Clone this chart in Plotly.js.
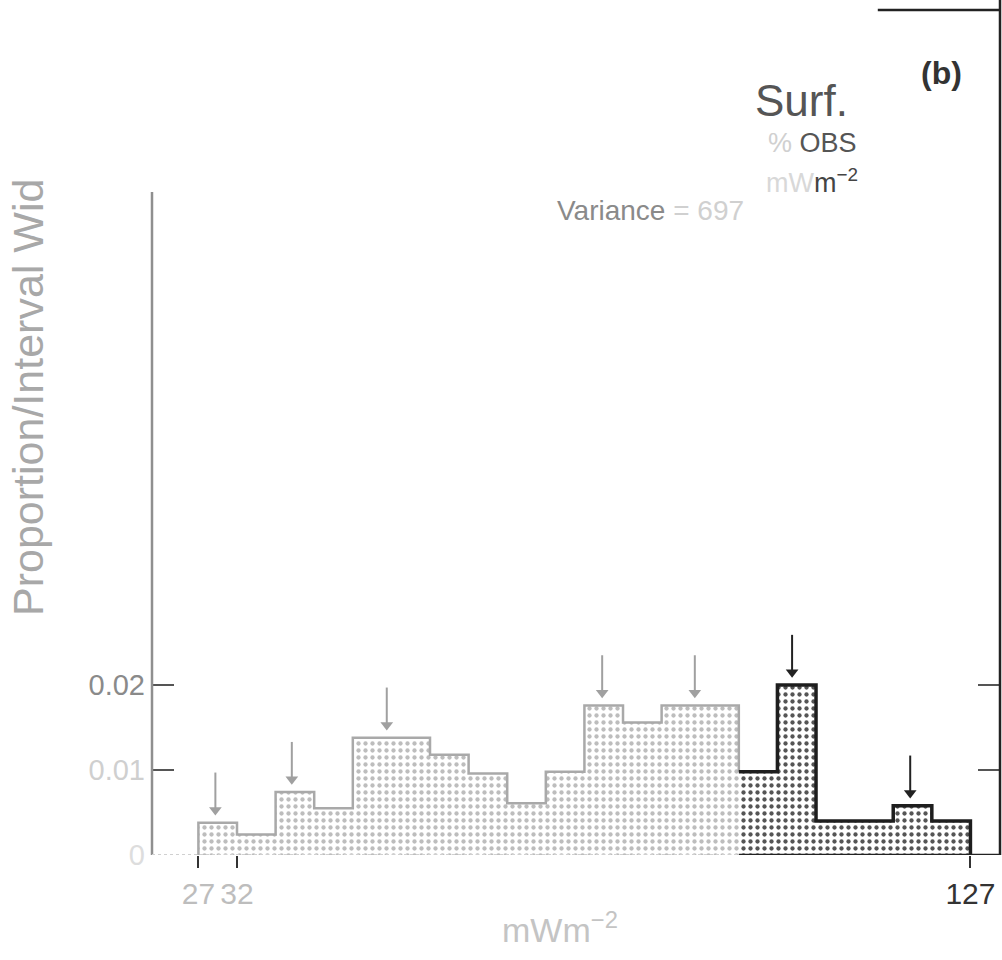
<!DOCTYPE html>
<html>
<head>
<meta charset="utf-8">
<script src="https://cdn.plot.ly/plotly-3.0.1.min.js"></script>
<style>html,body{margin:0;padding:0;background:#fff;}#chart{width:1002px;height:960px;}</style>
</head>
<body>
<div id="chart"></div>
<script>
// ---- data ----
const binLeft = [27,32,37,42,47,52,57,62,67,72,77,82,87,92,97,102,107,112,117,122];
const binWidth = 5;
const proportion = [0.0038,0.0024,0.0074,0.0055,0.0138,0.0138,0.0118,0.0096,0.0061,0.0098,
                    0.0176,0.0156,0.0176,0.0176,0.0098,0.0200,0.0040,0.0040,0.0058,0.0040];
const arrowX = [29.2,39.1,51.4,79.3,91.3,103.9,119.2];
const xTickVals = [27,32,127];
const xTickText = ['27','32','127'];
const yTickVals = [0,0.01,0.02];
const yTickText = ['0','0.01','0.02'];

// ---- styling helpers ----
const darkFrom = 97;
const binCenter = binLeft.map(b => b + binWidth/2);
const fg = binLeft.map(b => b >= darkFrom ? '#555' : '#bdbdbd');

function stepTrace(i0, i1, closeLeft, closeRight, color, width){
  const xs = [], ys = [];
  if (closeLeft){ xs.push(binLeft[i0]); ys.push(0); }
  for (let i = i0; i <= i1; i++){ xs.push(binLeft[i]); ys.push(proportion[i]); }
  if (closeRight){ xs.push(binLeft[i1] + binWidth); ys.push(0); }
  else { xs.push(binLeft[i1+1]); ys.push(proportion[i1+1]); }
  return {type:'scatter', mode:'lines', x:xs, y:ys, line:{shape:'hv', color:color, width:width},
          hoverinfo:'skip', showlegend:false};
}
const iDark = binLeft.indexOf(darkFrom);

const bars = {
  type:'bar', x:binCenter, y:proportion, width:binWidth,
  marker:{color:'#ffffff', line:{width:0},
          pattern:{shape:'.', fgcolor:fg, bgcolor:'#ffffff', size:7, solidity:0.3}},
  hoverinfo:'x+y', showlegend:false
};
const outlineLight = stepTrace(0, iDark-1, true, false, '#a9a9a9', 2.5);
const outlineDark = stepTrace(iDark, binLeft.length-1, false, true, '#1e1e1e', 3.5);

// arrows: shaft + head, placed above the bar they point to (offsets in axis units)
const gapY = 0.0009, shaftY = 0.0050;
function arrowTraces(dark){
  const sel = arrowX.filter(x => (x >= darkFrom) === dark);
  const top = sel.map(x => proportion[Math.min(binLeft.length-1, Math.floor((x - binLeft[0]) / binWidth))]);
  const color = dark ? '#222' : '#a0a0a0';
  const sx = [], sy = [];
  sel.forEach((x,i) => { sx.push(x, x, null); sy.push(top[i] + gapY + shaftY, top[i] + gapY + 0.0006, null); });
  return [
    {type:'scatter', mode:'lines', x:sx, y:sy, line:{color:color, width:2}, hoverinfo:'skip', showlegend:false},
    {type:'scatter', mode:'markers', x:sel, y:top.map(t => t + gapY + 0.0006),
     marker:{symbol:'triangle-down', size:11, color:color, line:{width:0}}, hoverinfo:'skip', showlegend:false}
  ];
}

const W = 848, H = 850, L = 152, T = 5;
const px = v => (v - L)/W;          // pixel x -> paper
const py = v => (T + H - v)/H;      // pixel y -> paper
const font = 'Liberation Sans, Arial, Helvetica, sans-serif';

const texts = [
  {text:'<b>(b)</b>', x:px(941), y:py(73), font:{size:32, color:'#333', family:font}},
  {text:'Surf.', x:px(801), y:py(100), font:{size:44, color:'#555', family:font}},
  {text:'<span style="color:#d0d0d0">%</span> OBS', x:px(812), y:py(143), font:{size:27, color:'#555', family:font}},
  {text:'<span style="color:#d8d8d8">mW</span>m<sup>−2</sup>', x:px(812), y:py(181), font:{size:27, color:'#444', family:font}},
  {text:'Variance <span style="color:#d0d0d0">= 697</span>', x:px(650), y:py(211), font:{size:28, color:'#8a8a8a', family:font}},
  {text:'Proportion/Interval Wid', x:px(28), y:py(398), textangle:-90, font:{size:43, color:'#a8a8a8', family:font}},
  {text:'mWm<sup>−2</sup>', x:px(560), y:py(927), font:{size:34, color:'#c4c4c4', family:font}}
].map(a => Object.assign({xref:'paper', yref:'paper', showarrow:false, xanchor:'center', yanchor:'middle'}, a));

const layout = {
  width:1002, height:960,
  margin:{l:L, r:2, t:T, b:105, pad:0},
  paper_bgcolor:'#ffffff', plot_bgcolor:'#ffffff',
  bargap:0, showlegend:false,
  xaxis:{range:[20.99,130.83], showgrid:false, zeroline:false, showline:false,
         tickmode:'array', tickvals:xTickVals, tickangle:0,
         ticktext:xTickText.map((t,i) => i < 2 ? '<span style="color:#bdbdbd">'+t+'</span>' : t),
         ticks:'outside', ticklen:12, tickwidth:2, tickcolor:'#333',
         tickfont:{size:30, color:'#333', family:font}},
  yaxis:{range:[0,0.1], showgrid:false, zeroline:false, showline:false,
         tickmode:'array', tickvals:yTickVals,
         ticktext:yTickText.map((t,i) => '<span style="color:'+['#dddddd','#cfcfcf','#8a8a8a'][i]+'">'+t+'</span>'),
         ticks:'inside', ticklen:22, tickwidth:2, tickcolor:'#555', mirror:'ticks',
         ticklabelstandoff:6,
         tickfont:{size:29, color:'#888', family:font}},
  shapes:[
    {type:'line', xref:'paper', yref:'y', x0:0, x1:0, y0:0, y1:0.078, line:{color:'#8f8f8f', width:2.5}},
    {type:'line', xref:'paper', yref:'paper', x0:1, x1:1, y0:0, y1:1.01, line:{color:'#222', width:2.5}},
    {type:'line', xref:'x', yref:'paper', x0:115, x1:130.83, y0:0.994, y1:0.994, line:{color:'#222', width:2.5}},
    {type:'line', xref:'paper', yref:'y', x0:0, x1:px(760), y0:0, y1:0, line:{color:'#d0d0d0', width:2, dash:'dot'}},
    {type:'line', xref:'x', yref:'y', x0:darkFrom, x1:130.83, y0:0, y1:0, line:{color:'#222', width:2.5}}
  ],
  annotations: texts
};

Plotly.newPlot('chart', [bars, outlineLight, outlineDark].concat(arrowTraces(false), arrowTraces(true)),
  layout, {displayModeBar:false, staticPlot:true});
</script>
</body>
</html>
